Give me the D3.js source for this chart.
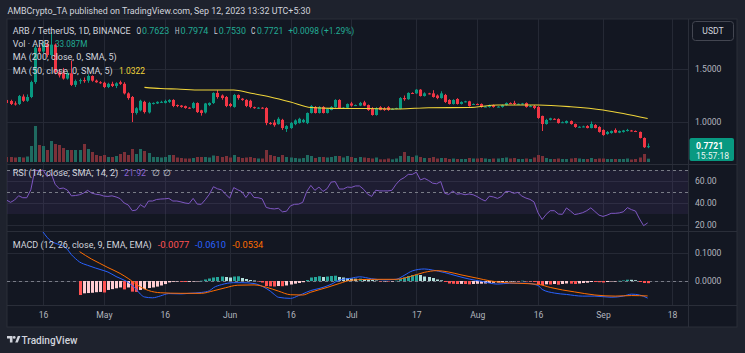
<!DOCTYPE html>
<html><head><meta charset="utf-8">
<script src="https://cdn.jsdelivr.net/npm/d3@7"></script>
<style>
html,body{margin:0;padding:0;background:#1e222d;}
svg{display:block;font-family:Roboto,"Noto Sans",sans-serif;}
</style></head><body>
<svg id="c" width="745" height="353"></svg>
<script>
// ---------- DATA ----------
const candleStart = "2023-04-07";
const opens = [1.208,1.198,1.175,1.17,1.24,1.20,1.236,1.377,1.70,1.665,
1.735,1.632,1.73,1.47,1.46,1.41,1.46,1.35,1.386,1.395,
1.39,1.434,1.39,1.375,1.37,1.33,1.36,1.34,1.375,1.36,
1.27,1.236,1.085,1.11,1.19,1.09,1.17,1.175,1.185,1.18,
1.19,1.208,1.16,1.155,1.15,1.135,1.132,1.179,1.11,1.09,
1.16,1.179,1.274,1.25,1.236,1.17,1.142,1.255,1.22,1.208,
1.20,1.14,1.132,1.135,1.132,0.99,0.995,0.98,1.02,0.934,
0.943,0.98,0.99,1.0,0.99,1.085,1.142,1.085,1.142,1.085,
1.113,1.142,1.208,1.132,1.135,1.175,1.155,1.155,1.185,1.16,
1.125,1.066,1.14,1.125,1.14,1.12,1.123,1.123,1.226,1.215,
1.274,1.27,1.305,1.245,1.27,1.27,1.25,1.226,1.255,1.208,
1.17,1.217,1.17,1.189,1.195,1.165,1.17,1.17,1.142,1.142,
1.16,1.142,1.142,1.16,1.179,1.18,1.17,1.17,1.179,1.142,
1.151,1.142,1.057,0.981,1.02,1.03,1.028,0.995,0.99,1.009,
0.981,0.953,0.955,0.962,0.943,0.972,0.953,0.925,0.887,0.896,
0.925,0.90,0.906,0.915,0.92,0.915,0.906,0.849,0.7623];
const highs = [1.22,1.21,1.195,1.255,1.26,1.26,1.39,1.72,1.73,1.76,
1.75,1.849,1.74,1.50,1.51,1.48,1.58,1.40,1.41,1.42,
1.45,1.44,1.40,1.385,1.38,1.37,1.38,1.375,1.39,1.375,
1.28,1.245,1.14,1.21,1.20,1.19,1.185,1.195,1.20,1.21,
1.215,1.215,1.165,1.16,1.155,1.14,1.19,1.185,1.115,1.18,
1.185,1.28,1.30,1.26,1.245,1.18,1.265,1.26,1.225,1.215,
1.21,1.145,1.14,1.14,1.14,1.0,1.02,1.045,1.03,0.97,
1.0,1.025,1.04,1.03,1.09,1.16,1.15,1.15,1.15,1.13,
1.15,1.215,1.215,1.14,1.175,1.19,1.165,1.19,1.20,1.165,
1.14,1.14,1.15,1.14,1.15,1.13,1.135,1.235,1.25,1.28,
1.28,1.31,1.31,1.28,1.275,1.30,1.26,1.29,1.265,1.215,
1.215,1.225,1.195,1.20,1.20,1.175,1.175,1.175,1.15,1.165,
1.165,1.15,1.165,1.185,1.185,1.20,1.175,1.18,1.185,1.16,
1.16,1.15,1.06,1.03,1.04,1.035,1.035,1.005,1.015,1.015,
0.985,0.96,0.965,0.97,1.005,0.98,0.96,0.93,0.915,0.92,
0.94,0.92,0.925,0.935,0.925,0.92,0.91,0.855,0.7974];
const lows = [1.17,1.16,1.155,1.16,1.19,1.19,1.225,1.36,1.64,1.65,
1.61,1.62,1.45,1.42,1.40,1.40,1.34,1.33,1.36,1.37,
1.37,1.38,1.37,1.36,1.32,1.32,1.33,1.32,1.35,1.26,
1.21,1.00,1.07,1.10,1.08,1.08,1.165,1.17,1.18,1.175,
1.18,1.14,1.14,1.135,1.125,1.125,1.125,1.085,1.06,1.08,
1.15,1.17,1.22,1.21,1.14,1.14,1.135,1.21,1.20,1.14,
1.13,1.125,1.125,1.125,0.97,0.975,0.955,0.975,0.925,0.906,
0.935,0.97,0.985,0.99,0.98,1.08,1.08,1.08,1.08,1.08,
1.11,1.135,1.125,1.125,1.13,1.145,1.15,1.15,1.15,1.105,
1.06,1.06,1.11,1.105,1.105,1.115,1.12,1.12,1.20,1.21,
1.265,1.265,1.24,1.24,1.26,1.23,1.215,1.22,1.18,1.165,
1.165,1.165,1.165,1.185,1.145,1.16,1.16,1.135,1.14,1.135,
1.135,1.14,1.135,1.155,1.17,1.16,1.165,1.165,1.135,1.14,
1.12,1.03,0.915,0.975,1.015,1.02,0.985,0.99,0.985,0.975,
0.945,0.948,0.95,0.94,0.94,0.94,0.90,0.87,0.88,0.89,
0.895,0.895,0.90,0.91,0.91,0.905,0.845,0.755,0.7530];
const closes = [1.179,1.17,1.165,1.245,1.20,1.236,1.377,1.70,1.665,1.735,
1.632,1.73,1.47,1.44,1.41,1.46,1.35,1.386,1.395,1.39,
1.434,1.39,1.375,1.37,1.33,1.36,1.34,1.365,1.36,1.27,
1.226,1.085,1.13,1.20,1.094,1.18,1.18,1.19,1.19,1.198,
1.208,1.151,1.151,1.142,1.132,1.132,1.179,1.094,1.085,1.175,
1.18,1.274,1.236,1.226,1.151,1.151,1.255,1.226,1.208,1.151,
1.142,1.132,1.135,1.132,0.99,0.985,0.97,1.03,0.943,0.962,
0.99,1.015,1.03,1.02,1.085,1.151,1.085,1.142,1.085,1.123,
1.142,1.208,1.132,1.135,1.17,1.155,1.16,1.18,1.155,1.113,
1.066,1.132,1.113,1.113,1.113,1.123,1.132,1.226,1.215,1.274,
1.27,1.305,1.245,1.27,1.265,1.236,1.226,1.27,1.189,1.17,
1.208,1.17,1.189,1.195,1.151,1.17,1.168,1.142,1.145,1.16,
1.142,1.145,1.16,1.179,1.175,1.17,1.172,1.175,1.142,1.15,
1.132,1.038,0.981,1.019,1.035,1.028,0.99,0.998,1.009,0.981,
0.953,0.955,0.958,0.943,0.981,0.943,0.906,0.877,0.906,0.915,
0.90,0.915,0.92,0.925,0.915,0.91,0.849,0.762,0.7721];
const volumes = [50,50,45,50,45,55,160,360,170,160,
120,210,180,170,140,120,120,120,120,180,
130,100,70,60,70,50,50,60,80,100,
70,130,80,130,110,90,50,50,45,50,
70,70,45,40,35,35,40,50,50,50,
45,65,60,50,60,45,70,50,40,45,
50,40,35,35,120,70,60,50,70,50,
45,40,35,40,70,60,40,50,50,45,
50,60,60,45,60,50,40,50,45,40,
35,45,27,27,35,27,35,60,100,60,
50,65,50,40,40,50,35,40,40,30,
35,30,30,30,40,35,35,40,35,30,
35,35,40,45,35,40,30,30,35,30,
45,70,60,40,30,30,35,30,30,35,
40,35,30,30,40,30,35,35,30,30,
30,30,30,35,25,30,45,80,33.087];
const rsi = [42.7,40.6,42.7,46.6,44.8,44.8,52,70,69,70,
64,67,57,53,53.6,51.8,46.5,46.8,47.5,49,
51.5,49,48,47.5,46.3,46,46.5,45.5,44,40,
38.2,33,33.6,38.5,36,41.8,41.8,43.2,43.6,43.8,
44.2,41.8,41.8,41,40,39.5,44.2,39,38.8,43,
48,54.8,52.9,52,47.9,44.5,54,52,50.3,45,
50,45,44.8,43.8,36,35,34.6,35.2,32,32.5,
37.5,38.8,39,40.6,50.5,56,51.5,54.5,50.5,53,
59,59.5,52.7,52.7,54.5,54.2,55.5,55.5,52.5,48,
46,51.6,51,51,51,51.6,57,61,63,66,
66,68,61,62.4,60.5,58,57.5,59.5,48.8,47.8,
51,48,48.5,47.5,48.2,47.5,45.8,43.5,41.8,46.2,
45.5,44.2,46,50.5,50.5,48.8,49.6,46.3,44.5,43.3,
41,31,25,29.7,33,33,30,29.7,35.5,32.7,
29.5,30.2,31.2,33,35.6,32.3,29,27.8,29,30.6,
30.6,31,32,35.8,34,32.7,25.5,19.4,21.92];
const dayRef = "2023-04-16";
const maDays = [25,29,33,39,47,51,56,61,66,71,80,88,95,105,112,122,130,138,143,149];
const maValues = [1.327,1.316,1.311,1.302,1.302,1.274,1.236,1.189,1.137,1.129,1.127,1.123,1.135,1.137,1.160,1.160,1.144,1.113,1.080,1.0322];
const macdDays = [0,2,3,5,6,7,8,9,10,11,13,15,16,18,20,21,22,23,24,25,27,29,31,34,36,39,41,42,44,47,49,52,54,56,57,58,61,63,64,66,68,71,73,76,78,81,84,87,89,91,94,96,99,102,105,108,112,115,119,122,123,126,129,133,136,140,143,145,147,149];
const macdValues = [0.175,0.142,0.135,0.124,0.113,0.094,0.080,0.068,0.061,0.056,0.046,0.037,0.032,0.016,0.003,-0.005,-0.017,-0.030,-0.047,-0.057,-0.060,-0.053,-0.045,-0.046,-0.044,-0.041,-0.035,-0.024,-0.013,-0.006,-0.006,-0.009,-0.019,-0.036,-0.048,-0.058,-0.062,-0.052,-0.046,-0.034,-0.027,-0.012,0.003,0.010,0.015,0.008,0.004,0.006,0.020,0.036,0.043,0.039,0.030,0.018,0.007,-0.001,-0.011,-0.008,-0.008,-0.016,-0.030,-0.043,-0.048,-0.054,-0.054,-0.058,-0.054,-0.047,-0.050,-0.061];
const signalDays = [9,12,14,16,19,21,24,26,29,34,39,42,45,48,52,55,58,61,64,66,70,73,76,81,87,90,94,97,100,103,107,110,113,117,122,125,128,131,136,141,145,149];
const signalValues = [0.105,0.078,0.063,0.048,0.027,0.009,-0.021,-0.034,-0.042,-0.044,-0.044,-0.035,-0.024,-0.015,-0.014,-0.022,-0.036,-0.049,-0.050,-0.040,-0.023,-0.009,0.003,0.006,0.006,0.014,0.031,0.037,0.032,0.022,0.010,0.001,-0.005,-0.008,-0.012,-0.023,-0.032,-0.039,-0.050,-0.054,-0.052,-0.0534];
const histStart = "2023-04-25";
const hist = [-0.050,-0.044,-0.043,-0.042,-0.040,-0.039,-0.041,-0.032,-0.029,-0.026,
-0.023,-0.030,-0.023,-0.038,-0.039,-0.032,-0.029,-0.025,-0.023,-0.020,
-0.016,-0.011,-0.005,-0.003,-0.002,-0.003,-0.0036,-0.003,-0.001,-0.0007,
0.001,0.0054,0.009,0.0125,0.0143,0.016,0.0143,0.0125,0.016,0.0168,
0.0107,0.0071,0.0036,0.0018,-0.001,-0.0054,-0.018,-0.019,-0.0196,-0.018,
-0.0186,-0.016,-0.0125,-0.0096,-0.0071,-0.0043,0.0036,0.0125,0.0143,0.0171,
0.0143,0.016,0.0179,0.0189,0.0143,0.0125,0.0107,0.0089,0.0082,0.0086,
0.0071,0.0054,0.0036,0.0018,-0.0018,-0.0011,-0.0014,-0.0007,0.0011,0.0071,
0.0125,0.0179,0.0214,0.0232,0.0214,0.016,0.0143,0.0107,0.0054,0.0025,
-0.0036,-0.0089,-0.010,-0.0107,-0.0104,-0.0107,-0.0118,-0.0107,-0.010,-0.0096,
-0.0089,-0.0071,-0.0064,-0.0054,-0.0043,-0.0018,-0.0011,-0.0007,-0.0018,0.0011,
-0.0011,-0.0011,-0.0036,-0.0107,-0.0143,-0.0118,-0.0125,-0.0107,-0.0132,-0.0107,
-0.0089,-0.0096,-0.0107,-0.0089,-0.0071,-0.0061,-0.0036,-0.0036,-0.0043,-0.0054,
-0.0036,-0.0018,-0.0011,0.0007,0.0021,0.0046,0.0043,0.0029,-0.0036,-0.0071,
-0.0077];
const timeTicks = ["2023-04-16","2023-05-01","2023-05-16","2023-06-01","2023-06-16","2023-07-01","2023-07-17","2023-08-01","2023-08-16","2023-09-01","2023-09-18"];
const timeLabels = ["16","May","16","Jun","16","Jul","17","Aug","16","Sep","18"];
const priceTicks = [1.0, 1.5];
const rsiTicks = [20, 40, 60];
const macdTicks = [0, 0.1];

// ---------- LAYOUT ----------
const svg = d3.select("#c");
const W = 745, H = 353;
const F = {l:7, r:737, t:19, b:327};
const plotR = 688;
const PP = {t:19, b:164}, RP = {t:165, b:231}, MP = {t:232, b:305};
const txt = "#d1d4dc", axTxt = "#b2b5be", gridC = "#252935", sepC = "#2a2e39";
const upC = "#089981", dnC = "#f23645";
const FS = 8.6;

const dt = (ref, n) => d3.utcDay.offset(new Date(ref + "T00:00:00Z"), n);
const x = d3.scaleUtc().domain([dt(dayRef,0), dt("2023-09-18",0)]).range([43, 672]);
const yP = d3.scaleLinear().domain([1.0, 1.5]).range([122, 69]);
const yV = d3.scaleLinear().domain([0, 360]).range([162, 126]);
const yR = d3.scaleLinear().domain([20, 60]).range([225, 181]);
const yM = d3.scaleLinear().domain([0, 0.1]).range([281, 253]);

svg.append("rect").attr("width",W).attr("height",H).attr("fill","#1e222d");
svg.append("rect").attr("x",F.l).attr("y",F.t).attr("width",F.r-F.l).attr("height",F.b-F.t)
  .attr("fill","#131722").attr("stroke","#2a2e39");

const defs = svg.append("defs");
function clip(id, p){ defs.append("clipPath").attr("id",id).append("rect")
  .attr("x",F.l).attr("y",p.t).attr("width",plotR-F.l).attr("height",p.b-p.t); }
clip("cP",PP); clip("cR",RP); clip("cM",MP);

// grids
const grid = svg.append("g");
timeTicks.forEach(t=>{ const gx = Math.round(x(dt(t,0)))+0.5;
  grid.append("line").attr("x1",gx).attr("x2",gx).attr("y1",F.t).attr("y2",MP.b).attr("stroke",gridC); });
function hgrid(vals, sc){ vals.forEach(v=>{ const gy=Math.round(sc(v))+0.5;
  grid.append("line").attr("x1",F.l).attr("x2",plotR).attr("y1",gy).attr("y2",gy).attr("stroke",gridC);});}
hgrid(priceTicks,yP); hgrid(rsiTicks,yR); hgrid(macdTicks,yM);

// separators
[PP.b+0.5, RP.b+0.5, MP.b+0.5].forEach(sy=> svg.append("line").attr("x1",F.l).attr("x2",F.r)
  .attr("y1",sy).attr("y2",sy).attr("stroke",sepC));
svg.append("line").attr("x1",plotR+0.5).attr("x2",plotR+0.5).attr("y1",F.t).attr("y2",F.b).attr("stroke",sepC);

// ---------- PRICE PANE ----------
const candles = opens.map((o,i)=>({d:dt(candleStart,i), o, h:highs[i], l:lows[i], c:closes[i], v:volumes[i]}));
const gP = svg.append("g").attr("clip-path","url(#cP)");
gP.selectAll(".vol").data(candles).join("rect")
  .attr("x",d=>Math.round(x(d.d))-1).attr("width",3)
  .attr("y",d=>yV(d.v)).attr("height",d=>yV(0)-yV(d.v))
  .attr("fill",d=>d.c>=d.o?"#1f6a60":"#7b3038");
gP.selectAll(".wick").data(candles).join("line")
  .attr("x1",d=>Math.round(x(d.d))+0.5).attr("x2",d=>Math.round(x(d.d))+0.5)
  .attr("y1",d=>yP(d.h)).attr("y2",d=>yP(d.l))
  .attr("stroke",d=>d.c>=d.o?upC:dnC);
gP.selectAll(".body").data(candles).join("rect")
  .attr("x",d=>Math.round(x(d.d))-1).attr("width",3)
  .attr("y",d=>yP(Math.max(d.o,d.c)))
  .attr("height",d=>Math.max(1, Math.abs(yP(d.o)-yP(d.c))))
  .attr("fill",d=>d.c>=d.o?upC:dnC);
const maPts = maDays.map((d,i)=>[dt(dayRef,d), maValues[i]]);
gP.append("path").datum(maPts).attr("fill","none").attr("stroke","#f0d53a").attr("stroke-width",1.1)
  .attr("d", d3.line().x(d=>x(d[0])).y(d=>yP(d[1])).curve(d3.curveMonotoneX));

// ---------- RSI PANE ----------
const gR = svg.append("g").attr("clip-path","url(#cR)");
gR.append("rect").attr("x",F.l).attr("width",plotR-F.l).attr("y",yR(70)).attr("height",yR(30)-yR(70))
  .attr("fill","rgba(126,87,194,0.1)");
[70,50].forEach(v=> gR.append("line").attr("x1",F.l).attr("x2",plotR).attr("y1",Math.round(yR(v))+0.5).attr("y2",Math.round(yR(v))+0.5)
  .attr("stroke","#787b86").attr("stroke-dasharray","3,3"));
gR.append("path").datum(rsi).attr("fill","none").attr("stroke","#7e57c2").attr("stroke-width",1)
  .attr("d", d3.line().x((d,i)=>x(dt(candleStart,i))).y(d=>yR(d)));

// ---------- MACD PANE ----------
const gM = svg.append("g").attr("clip-path","url(#cM)");
gM.append("line").attr("x1",F.l).attr("x2",plotR).attr("y1",Math.round(yM(0))+0.5).attr("y2",Math.round(yM(0))+0.5)
  .attr("stroke","#787b86").attr("stroke-dasharray","3,3");
const hd = hist.map((v,i)=>({d:dt(histStart,i), v, p: i>0?hist[i-1]:v}));
gM.selectAll(".h").data(hd).join("rect")
  .attr("x",d=>Math.round(x(d.d))-1).attr("width",3)
  .attr("y",d=>Math.min(yM(0),yM(d.v))).attr("height",d=>Math.max(0.5,Math.abs(yM(d.v)-yM(0))))
  .attr("fill",d=> d.v>=0 ? (d.v>=d.p?"#26a69a":"#b2dfdb") : (d.v<=d.p?"#ff5252":"#ffcdd2"));
const lineM = d3.line().x(d=>x(d[0])).y(d=>yM(d[1])).curve(d3.curveMonotoneX);
gM.append("path").datum(macdDays.map((d,i)=>[dt(dayRef,d),macdValues[i]])).attr("fill","none")
  .attr("stroke","#2962ff").attr("stroke-width",1).attr("d",lineM);
gM.append("path").datum(signalDays.map((d,i)=>[dt(dayRef,d),signalValues[i]])).attr("fill","none")
  .attr("stroke","#ff6d00").attr("stroke-width",1).attr("d",lineM);

// ---------- AXES ----------
function rAxis(sc, ticks, fmt){
  const g = svg.append("g").attr("transform",`translate(${plotR+7},0)`)
    .call(d3.axisRight(sc).tickValues(ticks).tickFormat(fmt).tickSize(0).tickPadding(0));
  g.select(".domain").remove();
  g.selectAll("text").attr("fill",axTxt).attr("font-size",FS).attr("font-family","Roboto,sans-serif");
}
rAxis(yP, priceTicks, d3.format(".4f"));
rAxis(yR, rsiTicks, d3.format(".2f"));
rAxis(yM, macdTicks, d3.format(".4f"));
const tA = svg.append("g").attr("transform",`translate(0,${MP.b})`)
  .call(d3.axisBottom(x).tickValues(timeTicks.map(t=>dt(t,0))).tickFormat((d,i)=>timeLabels[i]).tickSize(0).tickPadding(7));
tA.select(".domain").remove();
tA.selectAll("text").attr("fill",axTxt).attr("font-size",FS).attr("font-family","Roboto,sans-serif");

// last price label
const last = candles[candles.length-1];
svg.append("rect").attr("x",689.5).attr("y",138).attr("width",44.5).attr("height",23).attr("rx",2).attr("fill",upC);
svg.append("text").attr("x",696).attr("y",148.5).attr("fill","#fff").attr("font-size",FS).attr("font-weight","bold").text(d3.format(".4f")(last.c));
svg.append("text").attr("x",696).attr("y",158.5).attr("fill","#e8f5f2").attr("font-size",FS).text("15:57:18");

// USDT button
svg.append("rect").attr("x",692.5).attr("y",21.5).attr("width",41).attr("height",19).attr("rx",3)
  .attr("fill","none").attr("stroke","#434651");
svg.append("text").attr("x",713).attr("y",34.3).attr("text-anchor","middle").attr("fill",txt).attr("font-size",FS).text("USDT");

// ---------- TEXTS ----------
function T(s, tx, ty, col, len, extra){
  const t = svg.append("text").attr("x",tx).attr("y",ty).attr("fill",col).attr("font-size",FS).text(s);
  if(len) t.attr("textLength",len).attr("lengthAdjust","spacingAndGlyphs");
  if(extra) extra(t);
  return t;
}
T("AMBCrypto_TA published on TradingView.com, Sep 12, 2023 13:32 UTC+5:30", 7.5, 13.5, txt, 303, t=>t.attr("font-size",9.2));
T("ARB / TetherUS, 1D, BINANCE", 12.7, 34.2, txt, 118);
const ohlcCol = "#22ab94";
T("O",136.4,34.2,txt,4.6); T(d3.format(".4f")(opens[opens.length-1]),142,34.2,ohlcCol,27.3);
T("H",175,34.2,txt,4.4); T(d3.format(".4f")(highs[highs.length-1]),180.6,34.2,ohlcCol,27.7);
T("L",214,34.2,txt,3.6); T(d3.format(".4f")(lows[lows.length-1]),218.8,34.2,ohlcCol,27.2);
T("C",251,34.2,txt,4.4); T(d3.format(".4f")(last.c),256.9,34.2,ohlcCol,26.4);
T("+0.0098 (+1.29%)",288.3,34.2,ohlcCol,66);
T("Vol · ARB",12.7,47.4,txt,36.6); T("33.087M",55,47.4,ohlcCol,32.3);
T("MA (200, close, 0, SMA, 5)",12.7,60.4,txt,104);
T("MA (50, close, 0, SMA, 5)",12.7,73.8,txt,100); T("1.0322",119,73.8,"#f0d53a",26);
T("RSI (14, close, SMA, 14, 2)",12.7,176.4,txt,105.6); T("21.92",124,176.4,"#8a63d2",22);
T("∅",151.5,176.4,txt); T("∅",162.5,176.4,txt);
T("MACD (12, 26, close, 9, EMA, EMA)",12.7,248.1,txt,139);
T("-0.0077",157.7,248.1,"#ff5252",31.6); T("-0.0610",195,248.1,"#2962ff",31); T("-0.0534",232.3,248.1,"#ff6d00",31);

// footer logo
const lg = svg.append("g").attr("fill","#d1d4dc");
lg.append("path").attr("d","M7,336 h5.5 v6.5 h-2.6 v-4 h-2.9 z");
lg.append("circle").attr("cx",14.2).attr("cy",337.4).attr("r",1.4);
lg.append("path").attr("d","M15.2,342.5 l2.6,-6.5 h2.6 l-2.6,6.5 z");
T("TradingView",21.5,343.6,txt,56,t=>t.attr("font-size",10).attr("font-weight",500));
</script>
</body></html>
